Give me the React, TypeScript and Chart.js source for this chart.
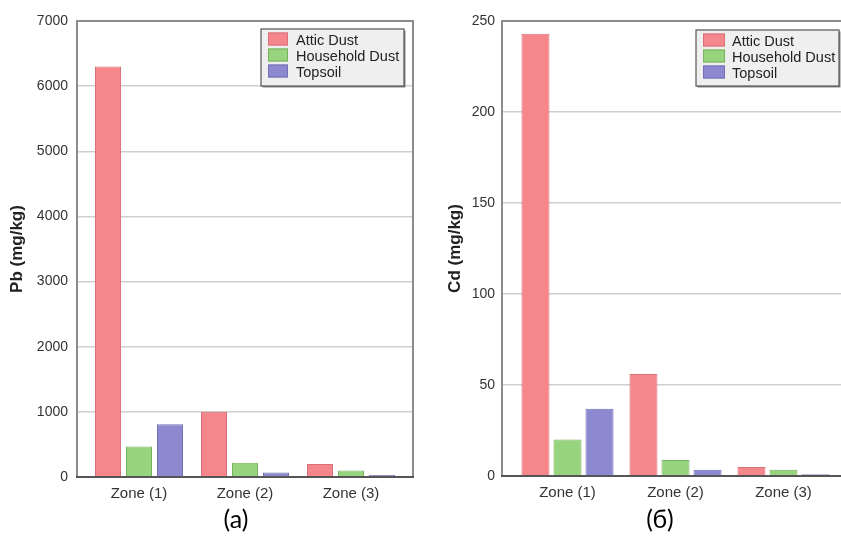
import React, { useEffect, useRef } from "react";
import { Chart, registerables } from "chart.js";

Chart.register(...registerables);

// ---- data ----
const zones = ["Zone (1)", "Zone (2)", "Zone (3)"];
const seriesNames = ["Attic Dust", "Household Dust", "Topsoil"];

const pbAttic = [6300, 1000, 200];
const pbHousehold = [470, 220, 100];
const pbTopsoil = [810, 70, 30];

const cdAttic = [243, 56, 5];
const cdHousehold = [20, 8.8, 3.5];
const cdTopsoil = [37, 3.5, 1];

const pbAxis = { title: "Pb (mg/kg)", max: 7000, step: 1000 };
const cdAxis = { title: "Cd (mg/kg)", max: 250, step: 50 };

const captions = ["(a)", "(б)"];

const fills = ["#f4868c", "#98d47e", "#8c89d0"];
const borders = ["#d8707a", "#78b062", "#7270b4"];

const FONT = "'Liberation Sans', Arial, sans-serif";

const framePlugin = {
  id: "frame",
  afterDatasetsDraw(chart: any) {
    const { ctx, chartArea: a } = chart;
    ctx.save();
    ctx.strokeStyle = "#8c8c8c";
    ctx.lineWidth = 2;
    ctx.strokeRect(a.left, a.top, a.right - a.left, a.bottom - a.top);
    ctx.strokeStyle = "#555";
    ctx.beginPath();
    ctx.moveTo(a.left - 1, a.bottom);
    ctx.lineTo(a.right + 1, a.bottom);
    ctx.stroke();
    ctx.restore();
  },
};

const boxLegendPlugin = {
  id: "boxLegend",
  afterDraw(chart: any, _args: any, opts: any) {
    const { ctx, chartArea: a } = chart;
    const w = opts.width;
    const h = opts.height;
    const x = a.right - opts.right - w;
    const y = a.top + opts.top;
    ctx.save();
    ctx.fillStyle = "#888";
    ctx.fillRect(x + 1.5, y + 1.5, w, h);
    ctx.fillStyle = "#efefef";
    ctx.fillRect(x, y, w, h);
    ctx.strokeStyle = "#555";
    ctx.lineWidth = 1.2;
    ctx.strokeRect(x, y, w, h);
    chart.data.datasets.forEach((ds: any, i: number) => {
      const cy = y + 10 + i * 16;
      ctx.fillStyle = ds.backgroundColor;
      ctx.fillRect(x + 7, cy - 6.5, opts.swatch, 13);
      ctx.strokeStyle = ds.borderColor;
      ctx.lineWidth = 1;
      ctx.strokeRect(x + 7.5, cy - 6, opts.swatch - 1, 12);
      ctx.fillStyle = "#222";
      ctx.font = `14.5px ${FONT}`;
      ctx.textBaseline = "middle";
      ctx.textAlign = "left";
      ctx.fillText(ds.label, x + opts.textX, cy + 1.5);
    });
    ctx.restore();
  },
};

type Cfg = {
  series: number[][];
  axis: { title: string; max: number; step: number };
  yWidth: number;
  xHeight: number;
  top: number;
  right: number;
  pad: number;
  catPct: number;
  barPct: number;
  titlePad: number;
  tickPad: number;
  legend: any;
};

function makeConfig(c: Cfg): any {
  return {
    type: "bar",
    data: {
      datasets: c.series.map((vals, s) => ({
        label: seriesNames[s],
        data: vals.map((v, i) => ({ x: i, y: v })),
        backgroundColor: fills[s],
        borderColor: borders[s],
        borderWidth: 1,
        categoryPercentage: c.catPct,
        barPercentage: c.barPct,
      })),
    },
    options: {
      animation: false,
      responsive: false,
      layout: { padding: { top: c.top, right: c.right, left: 0, bottom: 0 } },
      plugins: {
        legend: { display: false },
        tooltip: { enabled: false },
        boxLegend: c.legend,
      },
      scales: {
        x: {
          type: "linear",
          offset: false,
          min: -0.5 - c.pad,
          max: zones.length - 0.5 + c.pad,
          grid: { display: false, drawTicks: false, offset: false },
          border: { display: false },
          afterBuildTicks: (scale: any) => {
            scale.ticks = zones.map((_, i) => ({ value: i }));
          },
          afterFit: (scale: any) => {
            scale.height = c.xHeight;
          },
          ticks: {
            autoSkip: false,
            maxRotation: 0,
            padding: 8,
            color: "#333",
            font: { family: FONT, size: 15 },
            callback: (v: any) => zones[v] ?? "",
          },
        },
        y: {
          min: 0,
          max: c.axis.max,
          grid: { color: "#cfcfcf", lineWidth: 1.5, drawTicks: false },
          border: { display: false },
          afterFit: (scale: any) => {
            scale.width = c.yWidth;
          },
          ticks: {
            stepSize: c.axis.step,
            padding: c.tickPad,
            color: "#333",
            font: { family: FONT, size: 14 },
            callback: (v: any) => String(v),
          },
          title: {
            display: true,
            text: c.axis.title,
            color: "#222",
            padding: { top: c.titlePad, bottom: 0 },
            font: { family: FONT, size: 17, weight: "bold" },
          },
        },
      },
    },
    plugins: [framePlugin, boxLegendPlugin],
  };
}

function BarPanel(props: { cfg: Cfg; width: number; height: number; left: number }) {
  const ref = useRef<HTMLCanvasElement | null>(null);
  useEffect(() => {
    if (!ref.current) return;
    const chart = new Chart(ref.current, makeConfig(props.cfg));
    return () => chart.destroy();
  }, []);
  return (
    <canvas
      ref={ref}
      width={props.width}
      height={props.height}
      style={{ position: "absolute", left: props.left, top: 0, width: props.width, height: props.height }}
    />
  );
}

export default function App() {
  const leftCfg: Cfg = {
    series: [pbAttic, pbHousehold, pbTopsoil],
    axis: pbAxis,
    yWidth: 77,
    xHeight: 33,
    top: 21,
    right: 7,
    pad: 0.085,
    catPct: 0.877,
    barPct: 0.84,
    titlePad: 7,
    tickPad: 9,
    legend: { width: 143, height: 57, right: 9, top: 8, swatch: 20, textX: 35 },
  };
  const rightCfg: Cfg = {
    series: [cdAttic, cdHousehold, cdTopsoil],
    axis: cdAxis,
    yWidth: 82,
    xHeight: 34,
    top: 21,
    right: 11,
    pad: 0.1065,
    catPct: 0.89,
    barPct: 0.875,
    titlePad: 25,
    tickPad: 7,
    legend: { width: 143, height: 56, right: 10, top: 9, swatch: 22, textX: 36 },
  };
  const capStyle = (cx: number): React.CSSProperties => ({
    position: "absolute",
    left: cx - 40,
    width: 80,
    top: 503,
    height: 30,
    lineHeight: "30px",
    textAlign: "center",
    fontFamily: "Lato, 'Open Sans', sans-serif",
    fontSize: 25,
    color: "#000",
  });
  return (
    <div
      style={{
        position: "absolute",
        left: 0,
        top: 0,
        width: 841,
        height: 536,
        overflow: "hidden",
        background: "#fff",
      }}
    >
      <BarPanel cfg={leftCfg} width={420} height={510} left={0} />
      <BarPanel cfg={rightCfg} width={440} height={510} left={420} />
      <div style={capStyle(236)}>{captions[0]}</div>
      <div style={capStyle(660)}>{captions[1]}</div>
    </div>
  );
}
